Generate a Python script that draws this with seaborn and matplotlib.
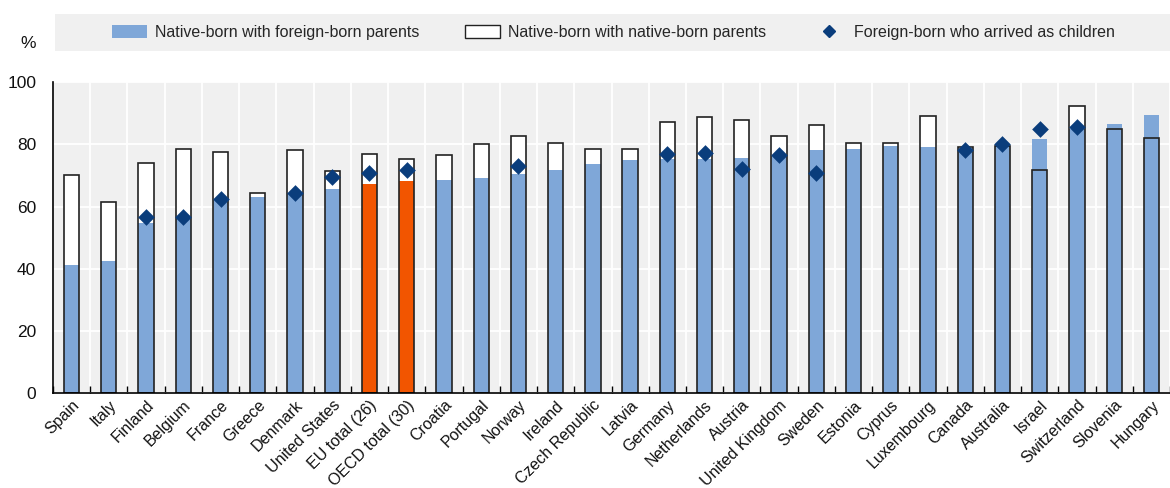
import numpy as np
import pandas as pd
import matplotlib
matplotlib.use("Agg")
import matplotlib.pyplot as plt
import seaborn as sns
from matplotlib.patches import Patch, Rectangle
from matplotlib.lines import Line2D

categories = ["Spain", "Italy", "Finland", "Belgium", "France", "Greece", "Denmark",
              "United States", "EU total (26)", "OECD total (30)", "Croatia", "Portugal",
              "Norway", "Ireland", "Czech Republic", "Latvia", "Germany", "Netherlands",
              "Austria", "United Kingdom", "Sweden", "Estonia", "Cyprus", "Luxembourg",
              "Canada", "Australia", "Israel", "Switzerland", "Slovenia", "Hungary"]
foreign_parents = [41.2, 42.6, 54.8, 56.3, 62.0, 63.1, 64.2, 65.7, 67.2, 68.2, 68.5, 69.1,
                   70.4, 71.7, 73.8, 74.9, 75.2, 75.4, 75.7, 76.2, 78.1, 78.6, 79.4, 79.1,
                   78.9, 79.6, 81.6, 85.0, 86.6, 89.4]
native_parents = [70.0, 61.3, 73.9, 78.6, 77.5, 64.4, 78.3, 71.4, 76.9, 75.4, 76.5, 80.2,
                  82.6, 80.5, 78.6, 78.4, 87.2, 88.8, 87.7, 82.7, 86.3, 80.3, 80.5, 89.0,
                  79.1, 79.4, 71.6, 92.3, 84.9, 81.9]
arrived_children = [np.nan, np.nan, 56.5, 56.7, 62.3, np.nan, 64.4, 69.5, 70.8, 71.7,
                    np.nan, np.nan, 72.9, np.nan, np.nan, np.nan, 77.0, 77.3, 72.2, 76.6,
                    70.9, np.nan, np.nan, np.nan, 78.3, 80.0, 84.8, 85.4, np.nan, np.nan]
highlight = ["EU total (26)", "OECD total (30)"]
y_ticks = [0, 20, 40, 60, 80, 100]
legend_labels = ["Native-born with foreign-born parents",
                 "Native-born with native-born parents",
                 "Foreign-born who arrived as children"]

BLUE = "#7fa7d8"
ORANGE = "#f25500"
NAVY = "#0a3d7c"
BG = "#f0f0f0"
FS = 11.5

sns.set_style("white")
plt.rcParams["font.family"] = ["Liberation Sans", "DejaVu Sans"]
plt.rcParams["font.size"] = FS

df = pd.DataFrame({"country": categories, "foreign": foreign_parents,
                   "native": native_parents, "arrived": arrived_children})
palette = {c: (ORANGE if c in highlight else BLUE) for c in categories}

fig = plt.figure(figsize=(11.7, 4.88), dpi=100)
ax = fig.add_axes([53 / 1170, 1 - 393.3 / 488, 1 - 53 / 1170, (393.3 - 82) / 488])
W = 0.41

sns.barplot(data=df, x="country", y="native", order=categories, color="white",
            saturation=1, width=W, errorbar=None, edgecolor="none", ax=ax)
sns.barplot(data=df, x="country", y="foreign", order=categories, hue="country",
            palette=palette, legend=False, saturation=1, width=W, errorbar=None,
            edgecolor="none", ax=ax)
sns.barplot(data=df, x="country", y="native", order=categories, fill=False,
            color="#222222", linewidth=1.2, width=W, errorbar=None, ax=ax)
sns.stripplot(data=df, x="country", y="arrived", order=categories, jitter=False,
              marker="D", color=NAVY, size=8.5, linewidth=0, ax=ax, zorder=5)

ax.set_xlim(-0.5, len(categories) - 0.5)
ax.set_ylim(0, 100)
ax.set_facecolor(BG)
ax.set_yticks(y_ticks)
ax.set_axisbelow(True)
ax.yaxis.grid(True, color="white", linewidth=1.3)
ax.set_xticks(np.arange(-0.5, len(categories), 1), minor=True)
ax.xaxis.grid(True, which="minor", color="white", linewidth=1.3)
ax.xaxis.grid(False, which="major")
ax.tick_params(axis="x", which="minor", direction="in", length=5, color="black", width=1, bottom=True)
ax.tick_params(axis="x", which="major", length=0, pad=3, labelsize=FS, colors="#111111")
ax.tick_params(axis="y", length=0, pad=12, labelsize=12.5, colors="#111111")
for lab in ax.get_xticklabels():
    lab.set_rotation(45)
    lab.set_ha("right")
    lab.set_rotation_mode("anchor")
ax.set_xlabel("")
ax.set_ylabel("")
for s in ["top", "right"]:
    ax.spines[s].set_visible(False)
for s in ["left", "bottom"]:
    ax.spines[s].set_color("black")
    ax.spines[s].set_linewidth(1.2)

fig.text(28 / 1170, 1 - 43 / 488, "%", ha="center", va="center", fontsize=12.5, color="#111111")

band = Rectangle((55 / 1170, 1 - 51 / 488), 1115 / 1170, 37 / 488,
                 transform=fig.transFigure, facecolor=BG, edgecolor="none", zorder=0)
fig.patches.append(band)
handles = [Patch(facecolor=BLUE, edgecolor="none"),
           Patch(facecolor="white", edgecolor="#222222", linewidth=1),
           Line2D([], [], marker="D", color=NAVY, linestyle="none", markersize=6)]
fig.legend(handles, legend_labels, loc="center",
           bbox_to_anchor=(112 / 1170, 1 - 51 / 488, 1003 / 1170, 37 / 488),
           mode="expand", ncol=3, frameon=False, handlelength=2.2, handleheight=0.8,
           handletextpad=0.5, fontsize=FS, borderaxespad=0, borderpad=0)

fig.savefig("out.png", dpi=100)
